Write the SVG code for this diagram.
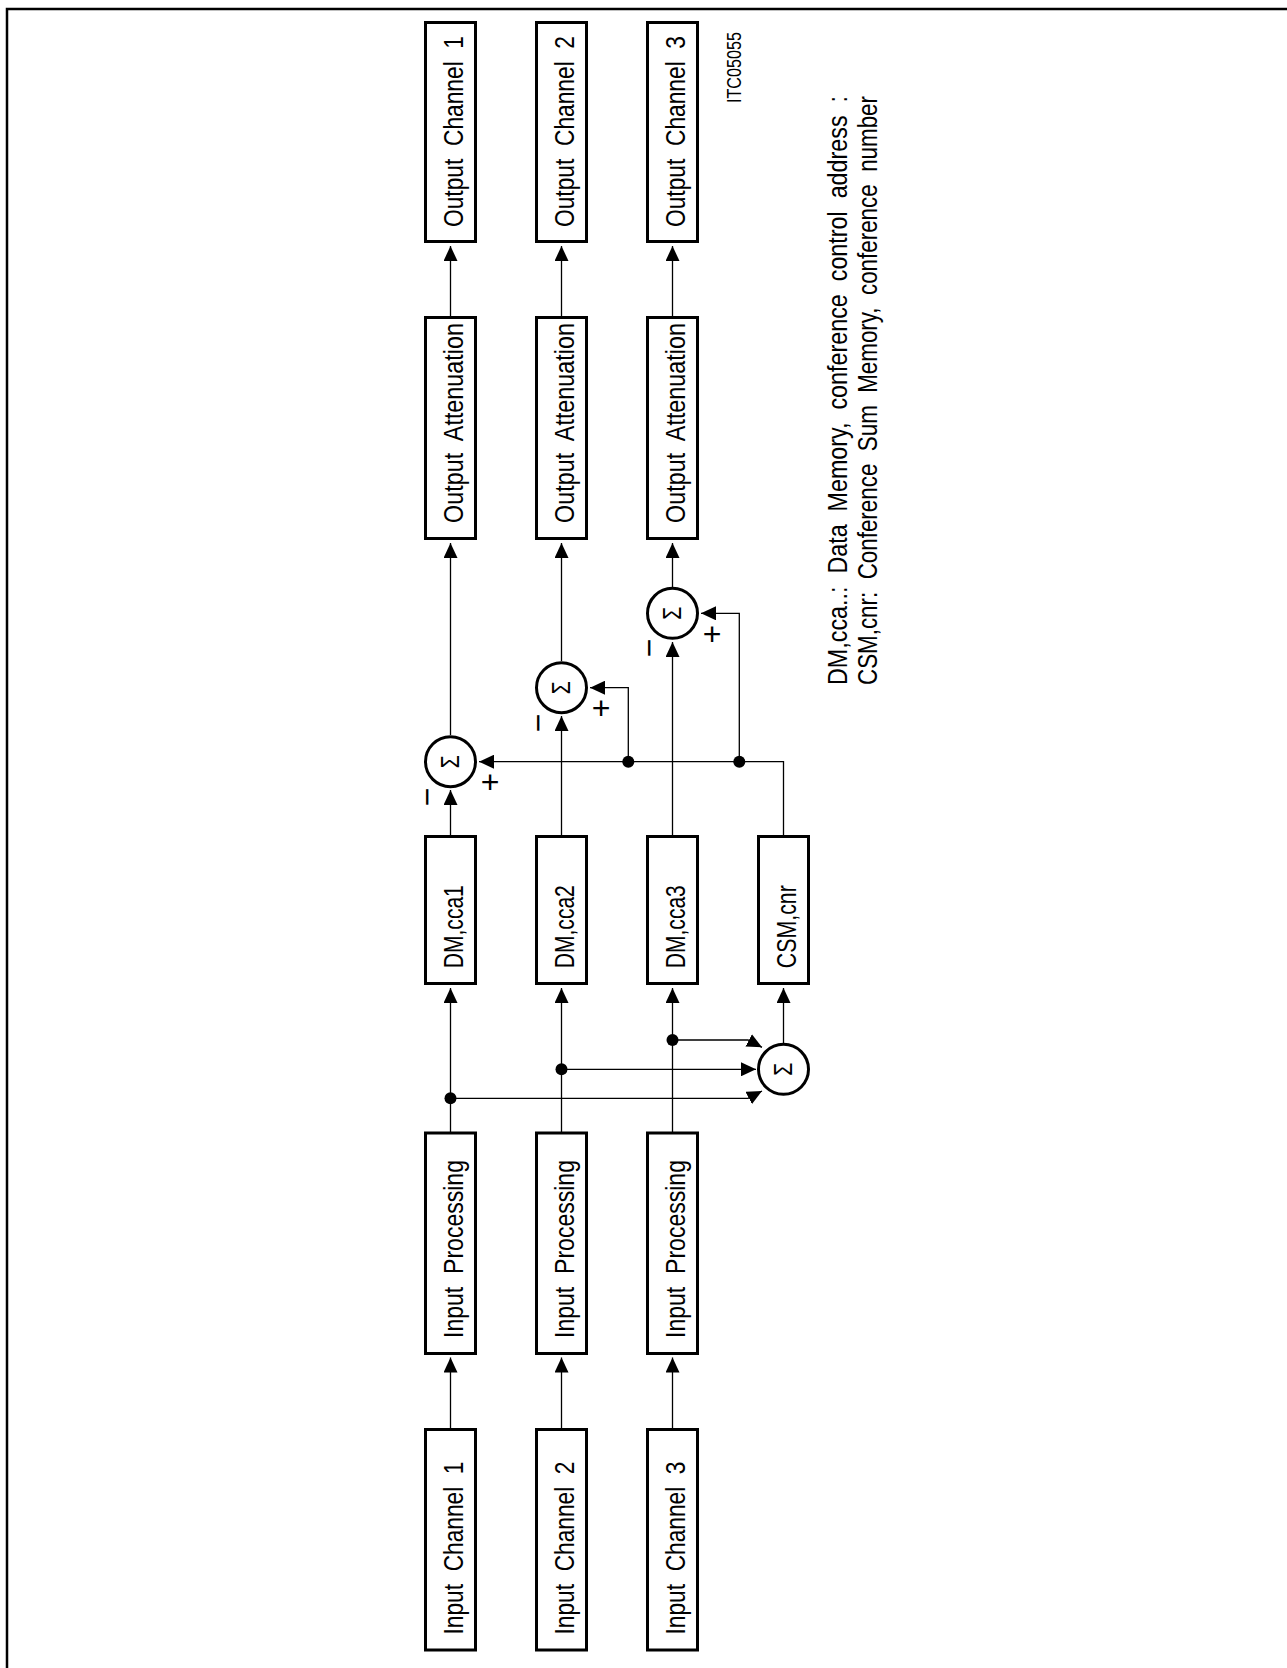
<svg xmlns="http://www.w3.org/2000/svg" width="1287" height="1668" viewBox="0 0 1287 1668">
<style>
.box{fill:#fff;stroke:#000;stroke-width:3}
.sum{fill:#fff;stroke:#000;stroke-width:3}
.wire{fill:none;stroke:#000;stroke-width:1.3}
.dot{fill:#000}
text{font-family:"Liberation Sans",Arial,sans-serif;fill:#000;white-space:pre}
.lbl{font-size:27px}
.leg{font-size:27px}
.sig{font-size:26px}
.pm{font-size:32px}
</style>
<defs>
<marker id="ah" markerUnits="userSpaceOnUse" markerWidth="16" markerHeight="14" refX="15" refY="7" orient="auto"><path d="M0,0 L15,7 L0,14 z" fill="#000"/></marker>
</defs>
<rect width="1287" height="1668" fill="#fff"/>
<g id="frame"><path d="M7,1668 V9 H1287" fill="none" stroke="#000" stroke-width="2.5"/></g>

<g id="connectors">
<path class="wire" marker-end="url(#ah)" d="M450.5,1428 V1357.5"/>
<path class="wire" marker-end="url(#ah)" d="M561.5,1428 V1357.5"/>
<path class="wire" marker-end="url(#ah)" d="M672.5,1428 V1357.5"/>
<path class="wire" marker-end="url(#ah)" d="M450.5,1132 V988"/>
<path class="wire" marker-end="url(#ah)" d="M561.5,1132 V988"/>
<path class="wire" marker-end="url(#ah)" d="M672.5,1132 V988"/>
<path class="wire" marker-end="url(#ah)" d="M450.5,835 V790"/>
<path class="wire" marker-end="url(#ah)" d="M561.5,835 V716"/>
<path class="wire" marker-end="url(#ah)" d="M672.5,835 V642"/>
<path class="wire" marker-end="url(#ah)" d="M450.5,735 V543"/>
<path class="wire" marker-end="url(#ah)" d="M561.5,661 V543"/>
<path class="wire" marker-end="url(#ah)" d="M672.5,587 V543"/>
<path class="wire" marker-end="url(#ah)" d="M450.5,316 V246"/>
<path class="wire" marker-end="url(#ah)" d="M561.5,316 V246"/>
<path class="wire" marker-end="url(#ah)" d="M672.5,316 V246"/>
<path class="wire" marker-end="url(#ah)" d="M783.5,1043 V988"/>
<path class="wire" marker-end="url(#ah)" d="M783.5,835 V761.7 H479"/>
<path class="wire" marker-end="url(#ah)" d="M628.3,761.7 V687.7 H590"/>
<path class="wire" marker-end="url(#ah)" d="M739.3,761.7 V613.3 H701"/>
<path class="wire" marker-end="url(#ah)" d="M450.5,1098.3 H748 L762,1091"/>
<path class="wire" marker-end="url(#ah)" d="M561.5,1069.3 H756"/>
<path class="wire" marker-end="url(#ah)" d="M672.5,1040 H748 L762,1047.3"/>
<circle class="dot" cx="450.5" cy="1098.3" r="6"/>
<circle class="dot" cx="561.5" cy="1069.3" r="6"/>
<circle class="dot" cx="672.5" cy="1040" r="6"/>
<circle class="dot" cx="628.3" cy="761.7" r="6"/>
<circle class="dot" cx="739.3" cy="761.7" r="6"/>
</g>

<g id="in1"><rect class="box" x="425.5" y="1429.5" width="50" height="220.5"/><text class="lbl" transform="translate(462.5,1548) rotate(-90)" text-anchor="middle" textLength="173" lengthAdjust="spacingAndGlyphs">Input  Channel  1</text></g>
<g id="in2"><rect class="box" x="536.5" y="1429.5" width="50" height="220.5"/><text class="lbl" transform="translate(573.5,1548) rotate(-90)" text-anchor="middle" textLength="173" lengthAdjust="spacingAndGlyphs">Input  Channel  2</text></g>
<g id="in3"><rect class="box" x="647.5" y="1429.5" width="50" height="220.5"/><text class="lbl" transform="translate(684.5,1548) rotate(-90)" text-anchor="middle" textLength="173" lengthAdjust="spacingAndGlyphs">Input  Channel  3</text></g>

<g id="ip1"><rect class="box" x="425.5" y="1133" width="50" height="220.5"/><text class="lbl" transform="translate(462.5,1249) rotate(-90)" text-anchor="middle" textLength="178" lengthAdjust="spacingAndGlyphs">Input  Processing</text></g>
<g id="ip2"><rect class="box" x="536.5" y="1133" width="50" height="220.5"/><text class="lbl" transform="translate(573.5,1249) rotate(-90)" text-anchor="middle" textLength="178" lengthAdjust="spacingAndGlyphs">Input  Processing</text></g>
<g id="ip3"><rect class="box" x="647.5" y="1133" width="50" height="220.5"/><text class="lbl" transform="translate(684.5,1249) rotate(-90)" text-anchor="middle" textLength="178" lengthAdjust="spacingAndGlyphs">Input  Processing</text></g>

<g id="dm1"><rect class="box" x="425.5" y="836.5" width="50" height="147"/><text class="lbl" transform="translate(462.5,926.7) rotate(-90)" text-anchor="middle" textLength="83" lengthAdjust="spacingAndGlyphs">DM,cca1</text></g>
<g id="dm2"><rect class="box" x="536.5" y="836.5" width="50" height="147"/><text class="lbl" transform="translate(573.5,926.7) rotate(-90)" text-anchor="middle" textLength="83" lengthAdjust="spacingAndGlyphs">DM,cca2</text></g>
<g id="dm3"><rect class="box" x="647.5" y="836.5" width="50" height="147"/><text class="lbl" transform="translate(684.5,926.7) rotate(-90)" text-anchor="middle" textLength="83" lengthAdjust="spacingAndGlyphs">DM,cca3</text></g>
<g id="csm"><rect class="box" x="758.5" y="836.5" width="50" height="147"/><text class="lbl" transform="translate(795.5,926.7) rotate(-90)" text-anchor="middle" textLength="83" lengthAdjust="spacingAndGlyphs">CSM,cnr</text></g>

<g id="sum1"><circle class="sum" cx="450.5" cy="761.7" r="25"/><text class="sig" transform="translate(459,761.7) rotate(-90)" text-anchor="middle" textLength="13" lengthAdjust="spacingAndGlyphs">Σ</text><text class="pm" x="490" y="782" text-anchor="middle" dominant-baseline="central">+</text><text class="pm" transform="translate(427,797) rotate(-90)" text-anchor="middle" dominant-baseline="central">−</text></g>
<g id="sum2"><circle class="sum" cx="561.5" cy="687.7" r="25"/><text class="sig" transform="translate(570,687.7) rotate(-90)" text-anchor="middle" textLength="13" lengthAdjust="spacingAndGlyphs">Σ</text><text class="pm" x="601" y="708" text-anchor="middle" dominant-baseline="central">+</text><text class="pm" transform="translate(538,723) rotate(-90)" text-anchor="middle" dominant-baseline="central">−</text></g>
<g id="sum3"><circle class="sum" cx="672.5" cy="613.3" r="25"/><text class="sig" transform="translate(681,613.3) rotate(-90)" text-anchor="middle" textLength="13" lengthAdjust="spacingAndGlyphs">Σ</text><text class="pm" x="712" y="634" text-anchor="middle" dominant-baseline="central">+</text><text class="pm" transform="translate(649,648) rotate(-90)" text-anchor="middle" dominant-baseline="central">−</text></g>
<g id="sum4"><circle class="sum" cx="783.5" cy="1069.3" r="25"/><text class="sig" transform="translate(792,1069.3) rotate(-90)" text-anchor="middle" textLength="13" lengthAdjust="spacingAndGlyphs">Σ</text></g>

<g id="oa1"><rect class="box" x="425.5" y="317.5" width="50" height="221"/><text class="lbl" transform="translate(462.5,423) rotate(-90)" text-anchor="middle" textLength="200" lengthAdjust="spacingAndGlyphs">Output  Attenuation</text></g>
<g id="oa2"><rect class="box" x="536.5" y="317.5" width="50" height="221"/><text class="lbl" transform="translate(573.5,423) rotate(-90)" text-anchor="middle" textLength="200" lengthAdjust="spacingAndGlyphs">Output  Attenuation</text></g>
<g id="oa3"><rect class="box" x="647.5" y="317.5" width="50" height="221"/><text class="lbl" transform="translate(684.5,423) rotate(-90)" text-anchor="middle" textLength="200" lengthAdjust="spacingAndGlyphs">Output  Attenuation</text></g>

<g id="oc1"><rect class="box" x="425.5" y="22.5" width="50" height="219"/><text class="lbl" transform="translate(462.5,131.5) rotate(-90)" text-anchor="middle" textLength="191" lengthAdjust="spacingAndGlyphs">Output  Channel  1</text></g>
<g id="oc2"><rect class="box" x="536.5" y="22.5" width="50" height="219"/><text class="lbl" transform="translate(573.5,131.5) rotate(-90)" text-anchor="middle" textLength="191" lengthAdjust="spacingAndGlyphs">Output  Channel  2</text></g>
<g id="oc3"><rect class="box" x="647.5" y="22.5" width="50" height="219"/><text class="lbl" transform="translate(684.5,131.5) rotate(-90)" text-anchor="middle" textLength="191" lengthAdjust="spacingAndGlyphs">Output  Channel  3</text></g>

<g id="notes">
<text transform="translate(740.5,67.5) rotate(-90)" font-size="20" text-anchor="middle" textLength="71" lengthAdjust="spacingAndGlyphs">ITC05055</text>
<text class="leg" transform="translate(847,685) rotate(-90)" textLength="589" lengthAdjust="spacingAndGlyphs">DM,cca..:  Data  Memory,  conference  control  address  :</text>
<text class="leg" transform="translate(877,685) rotate(-90)" textLength="589" lengthAdjust="spacingAndGlyphs">CSM,cnr:  Conference  Sum  Memory,  conference  number</text>
</g>
</svg>
